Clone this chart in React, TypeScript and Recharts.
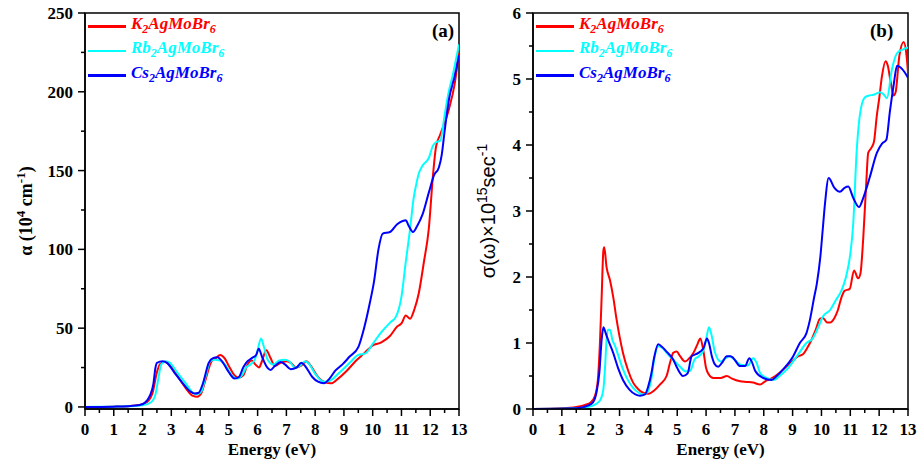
import { LineChart, Line, XAxis, YAxis, ReferenceArea } from 'recharts';

type Pt = [number, number];

// energy axis (eV), majors every 1, minors every 0.5
const energyTicks = [0, 0.5, 1, 1.5, 2, 2.5, 3, 3.5, 4, 4.5, 5, 5.5, 6, 6.5, 7, 7.5, 8, 8.5, 9, 9.5, 10, 10.5, 11, 11.5, 12, 12.5, 13];
const alphaTicks = [0, 25, 50, 75, 100, 125, 150, 175, 200, 225, 250];
const sigmaTicks = [0, 0.5, 1, 1.5, 2, 2.5, 3, 3.5, 4, 4.5, 5, 5.5, 6];

const compounds = ['K', 'Rb', 'Cs'];
const colors = ['#ff0000', '#00ffff', '#0000ff'];

// absorption coefficient, 10^4 cm^-1
const kAlpha: Pt[] = [
  [0, 0], [1.0, 0.2], [1.5, 0.5], [1.9, 1.2], [2.15, 3], [2.35, 9], [2.5, 22], [2.6, 27], [2.75, 28.5], [2.9, 27.5],
  [3.2, 20], [3.5, 12], [3.75, 7], [3.9, 6.5], [4.05, 9], [4.2, 18], [4.4, 29], [4.55, 31], [4.7, 33], [4.85, 31],
  [5.0, 26], [5.2, 20], [5.35, 18.5], [5.5, 20], [5.65, 27], [5.8, 29.5], [5.92, 27], [6.05, 25], [6.15, 29], [6.3, 36],
  [6.45, 31], [6.6, 26], [6.8, 28], [7.0, 29], [7.15, 28], [7.35, 25], [7.5, 26], [7.7, 29], [7.85, 26], [8.1, 19],
  [8.35, 15.5], [8.55, 15], [8.8, 18], [9.1, 23], [9.4, 29], [9.7, 34], [10.0, 39], [10.3, 41], [10.6, 45], [10.85, 51],
  [11.0, 53], [11.15, 58], [11.3, 56], [11.45, 62], [11.6, 72], [11.78, 92], [11.95, 113], [12.1, 148], [12.2, 165],
  [12.35, 173], [12.65, 189], [12.85, 205], [13, 225],
];
const rbAlpha: Pt[] = [
  [0, 0], [1.0, 0.2], [1.5, 0.4], [2.0, 1], [2.3, 3], [2.45, 8], [2.55, 18], [2.65, 27], [2.8, 29], [2.95, 28],
  [3.2, 22], [3.5, 15], [3.75, 9], [3.9, 8], [4.05, 10], [4.2, 20], [4.35, 29], [4.5, 30], [4.7, 29.5], [4.9, 26],
  [5.1, 20], [5.3, 18], [5.45, 20], [5.6, 25], [5.75, 27], [5.9, 30], [6.0, 36], [6.12, 43.5], [6.22, 38], [6.35, 30],
  [6.55, 27], [6.75, 29.5], [6.95, 30], [7.1, 29], [7.3, 25], [7.5, 26.5], [7.65, 29], [7.8, 27], [8.0, 21], [8.3, 16],
  [8.5, 16.5], [8.8, 21], [9.2, 28], [9.5, 33], [9.75, 34], [10.0, 40], [10.28, 47], [10.63, 54], [10.8, 57], [11.0, 70],
  [11.15, 92], [11.3, 113], [11.42, 132], [11.5, 140], [11.6, 148], [11.73, 153], [11.95, 158], [12.1, 166], [12.2, 168],
  [12.35, 169], [12.5, 185], [12.6, 196], [12.8, 212], [13, 230],
];
const csAlpha: Pt[] = [
  [0, 0], [1.0, 0.2], [1.5, 0.5], [1.9, 1.2], [2.1, 3], [2.25, 7], [2.38, 15], [2.45, 25], [2.5, 28], [2.7, 29],
  [2.85, 28], [3.1, 22], [3.4, 15], [3.65, 10], [3.8, 8.5], [3.95, 9], [4.1, 15], [4.3, 28], [4.45, 31], [4.6, 31.5],
  [4.8, 28], [5.0, 22], [5.2, 18], [5.35, 19], [5.5, 25], [5.6, 28], [5.8, 31], [5.95, 33], [6.04, 37], [6.15, 32],
  [6.3, 26], [6.45, 23.5], [6.6, 26], [6.8, 28.5], [6.95, 27], [7.15, 24], [7.35, 25], [7.52, 28], [7.65, 26], [7.9, 19],
  [8.1, 16], [8.3, 15], [8.5, 18], [8.7, 23], [8.95, 27], [9.2, 32], [9.5, 38], [9.7, 50], [9.9, 66], [10.05, 80],
  [10.2, 100], [10.35, 110], [10.6, 111], [10.85, 116], [11.04, 118], [11.15, 118.5], [11.25, 115], [11.4, 111],
  [11.55, 115], [11.73, 122], [11.95, 136], [12.13, 147], [12.3, 152], [12.4, 160], [12.5, 175], [12.65, 195],
  [12.85, 210], [13, 223],
];

// optical conductivity, 10^15 sec^-1
const kSigma: Pt[] = [
  [0, 0], [1.0, 0.01], [1.5, 0.03], [1.8, 0.06], [2.0, 0.1], [2.15, 0.2], [2.25, 0.45], [2.32, 1.0], [2.38, 1.7],
  [2.44, 2.4], [2.47, 2.45], [2.55, 2.15], [2.67, 1.95], [2.78, 1.7], [2.9, 1.35], [3.0, 1.1], [3.12, 0.85], [3.3, 0.58],
  [3.47, 0.4], [3.65, 0.3], [3.8, 0.25], [4.0, 0.23], [4.2, 0.28], [4.4, 0.37], [4.63, 0.5], [4.75, 0.7], [4.86, 0.85],
  [4.98, 0.87], [5.1, 0.8], [5.27, 0.72], [5.4, 0.76], [5.56, 0.85], [5.7, 0.98], [5.8, 1.07], [5.9, 0.9], [6.0, 0.62],
  [6.1, 0.52], [6.25, 0.47], [6.5, 0.47], [6.72, 0.5], [6.9, 0.46], [7.18, 0.42], [7.4, 0.41], [7.63, 0.4], [7.87, 0.37],
  [8.05, 0.42], [8.2, 0.45], [8.4, 0.5], [8.55, 0.55], [8.8, 0.65], [9.0, 0.73], [9.2, 0.8], [9.36, 0.83], [9.5, 0.92],
  [9.6, 1.0], [9.8, 1.2], [9.95, 1.37], [10.05, 1.38], [10.2, 1.31], [10.3, 1.31], [10.45, 1.38], [10.57, 1.5],
  [10.7, 1.7], [10.8, 1.79], [10.98, 1.82], [11.13, 2.1], [11.27, 1.98], [11.35, 2.05], [11.45, 2.6], [11.55, 3.4],
  [11.62, 3.88], [11.72, 3.95], [11.82, 4.05], [11.92, 4.45], [12.0, 4.7], [12.1, 5.05], [12.22, 5.27], [12.3, 5.2],
  [12.4, 4.95], [12.5, 4.75], [12.57, 4.8], [12.7, 5.35], [12.85, 5.56], [12.95, 5.35], [13, 5.1],
];
const rbSigma: Pt[] = [
  [0, 0], [1.5, 0.01], [2.0, 0.04], [2.2, 0.08], [2.35, 0.15], [2.44, 0.3], [2.5, 0.65], [2.55, 1.05], [2.6, 1.2],
  [2.67, 1.2], [2.75, 1.05], [2.85, 0.95], [3.0, 0.75], [3.12, 0.6], [3.3, 0.43], [3.47, 0.32], [3.65, 0.25], [3.8, 0.22],
  [3.95, 0.25], [4.1, 0.45], [4.2, 0.75], [4.34, 0.95], [4.5, 0.92], [4.63, 0.85], [4.85, 0.75], [5.1, 0.64], [5.3, 0.57],
  [5.45, 0.58], [5.6, 0.75], [5.75, 0.8], [5.9, 0.88], [6.0, 1.05], [6.1, 1.24], [6.2, 1.1], [6.3, 0.87], [6.5, 0.72],
  [6.65, 0.76], [6.8, 0.8], [6.95, 0.76], [7.2, 0.67], [7.45, 0.66], [7.63, 0.77], [7.75, 0.7], [7.87, 0.55], [8.1, 0.47],
  [8.35, 0.44], [8.55, 0.5], [8.8, 0.6], [9.15, 0.8], [9.48, 1.0], [9.7, 1.07], [9.9, 1.25], [10.05, 1.4], [10.3, 1.5],
  [10.5, 1.65], [10.7, 1.8], [10.85, 2.0], [11.0, 2.35], [11.1, 2.8], [11.22, 3.9], [11.33, 4.45], [11.5, 4.72],
  [11.65, 4.75], [11.8, 4.76], [12.03, 4.8], [12.15, 4.77], [12.27, 4.71], [12.44, 5.14], [12.62, 5.39], [12.83, 5.45],
  [13, 5.48],
];
const csSigma: Pt[] = [
  [0, 0], [1.5, 0.01], [1.9, 0.05], [2.08, 0.1], [2.2, 0.25], [2.3, 0.55], [2.38, 1.05], [2.44, 1.24], [2.52, 1.15],
  [2.6, 1.05], [2.78, 0.85], [2.95, 0.62], [3.12, 0.44], [3.35, 0.29], [3.55, 0.22], [3.71, 0.2], [3.88, 0.22], [4.0, 0.35],
  [4.1, 0.53], [4.2, 0.78], [4.34, 0.98], [4.5, 0.93], [4.63, 0.87], [4.86, 0.75], [5.0, 0.62], [5.2, 0.5], [5.36, 0.54],
  [5.5, 0.8], [5.65, 0.83], [5.8, 0.87], [5.92, 0.93], [6.03, 1.07], [6.1, 1.0], [6.2, 0.8], [6.3, 0.68], [6.42, 0.64],
  [6.55, 0.7], [6.72, 0.8], [6.85, 0.8], [6.95, 0.77], [7.18, 0.65], [7.35, 0.65], [7.5, 0.77], [7.6, 0.7], [7.7, 0.58],
  [7.98, 0.47], [8.27, 0.44], [8.45, 0.5], [8.67, 0.6], [9.02, 0.8], [9.25, 1.0], [9.48, 1.15], [9.6, 1.35], [9.75, 1.7],
  [9.84, 1.9], [9.96, 2.3], [10.05, 2.75], [10.12, 3.1], [10.25, 3.5], [10.45, 3.35], [10.64, 3.29], [10.8, 3.35],
  [10.93, 3.37], [11.1, 3.2], [11.3, 3.06], [11.45, 3.2], [11.68, 3.52], [11.92, 3.88], [12.1, 4.02], [12.25, 4.08],
  [12.37, 4.5], [12.5, 4.9], [12.62, 5.2], [12.8, 5.15], [13, 5.02],
];

const SERIF = '"Liberation Serif", "Times New Roman", serif';
const SANS = '"Liberation Sans", Arial, sans-serif';

const toRows = (pts: Pt[]) => pts.map(([e, v]) => ({ e, v }));

const XTick = ({ x, y, payload }: any) => {
  const major = Number.isInteger(payload.value);
  return (
    <g>
      <line x1={x} x2={x} y1={y} y2={y + (major ? 7 : 4)} stroke="#000" strokeWidth={1.5} />
      {major && (
        <text x={x} y={y + 26} textAnchor="middle" fontFamily={SERIF} fontWeight="bold" fontSize={17} fill="#000">
          {payload.value}
        </text>
      )}
    </g>
  );
};

const makeYTick = (isMajor: (v: number) => boolean) => ({ x, y, payload }: any) => {
  const major = isMajor(payload.value);
  return (
    <g>
      <line x1={x} x2={x - (major ? 7 : 4)} y1={y} y2={y} stroke="#000" strokeWidth={1.5} />
      {major && (
        <text x={x - 12} y={y + 6} textAnchor="end" fontFamily={SERIF} fontWeight="bold" fontSize={17} fill="#000">
          {payload.value}
        </text>
      )}
    </g>
  );
};

const AlphaLabel = ({ viewBox }: any) => {
  const cx = viewBox.x + 32;
  const cy = viewBox.y + viewBox.height / 2;
  return (
    <text x={cx} y={cy} transform={`rotate(-90, ${cx}, ${cy})`} textAnchor="middle" fontFamily={SERIF}
      fontWeight="bold" fontSize={18} fill="#000">
      <tspan>α (10</tspan>
      <tspan dy={-7} fontSize={13}>4</tspan>
      <tspan dy={7}> cm</tspan>
      <tspan dy={-7} fontSize={13}>-1</tspan>
      <tspan dy={7}>)</tspan>
    </text>
  );
};

const SigmaLabel = ({ viewBox }: any) => {
  const cx = viewBox.x + 35;
  const cy = viewBox.y + viewBox.height / 2;
  return (
    <text x={cx} y={cy} transform={`rotate(-90, ${cx}, ${cy})`} textAnchor="middle" fontFamily={SANS}
      fontSize={20} fill="#000">
      <tspan>σ(ω)×10</tspan>
      <tspan dy={-8} fontSize={14}>15</tspan>
      <tspan dy={8}>sec</tspan>
      <tspan dy={-8} fontSize={14}>-1</tspan>
      <tspan dy={8}></tspan>
    </text>
  );
};

function Legend({ left }: { left: number }) {
  return (
    <div style={{ position: 'absolute', left, top: 14 }}>
      {compounds.map((c, i) => (
        <div key={c} style={{ display: 'flex', alignItems: 'center', height: 24.5 }}>
          <div style={{ width: 38, height: 2.5, background: colors[i] }} />
          <span style={{
            marginLeft: 5, color: colors[i], fontFamily: SERIF, fontWeight: 'bold', fontStyle: 'italic',
            fontSize: 17, lineHeight: '17px', whiteSpace: 'nowrap',
          }}>
            {c}<sub style={{ fontSize: 12 }}>2</sub>AgMoBr<sub style={{ fontSize: 12 }}>6</sub>
          </span>
        </div>
      ))}
    </div>
  );
}

interface PanelProps {
  left: number;
  width: number;
  yAxisWidth: number;
  rightMargin: number;
  series: Pt[][];
  yDomain: [number, number];
  yTicks: number[];
  isMajor: (v: number) => boolean;
  yLabel: (p: any) => any;
  tag: string;
  tagLeft: number;
}

function Panel({ left, width, yAxisWidth, rightMargin, series, yDomain, yTicks, isMajor, yLabel, tag, tagLeft }: PanelProps) {
  const YTick = makeYTick(isMajor);
  return (
    <div style={{ position: 'absolute', left, top: 0, width, height: 459 }}>
      <LineChart width={width} height={459} margin={{ top: 13, right: rightMargin, bottom: 0, left: 0 }}>
        <XAxis
          dataKey="e"
          type="number"
          domain={[0, 13]}
          ticks={energyTicks}
          interval={0}
          allowDataOverflow
          height={50}
          tickSize={0}
          tickMargin={0}
          tickLine={false}
          tick={(p: any) => <XTick {...p} />}
          axisLine={{ stroke: '#000', strokeWidth: 1.5 }}
          label={{ value: 'Energy (eV)', position: 'insideBottom', offset: 4, fontFamily: SERIF, fontWeight: 'bold', fontSize: 17, fill: '#000' }}
        />
        <YAxis
          type="number"
          domain={yDomain}
          ticks={yTicks}
          interval={0}
          allowDataOverflow
          width={yAxisWidth}
          tickSize={0}
          tickMargin={0}
          tickLine={false}
          tick={(p: any) => <YTick {...p} />}
          axisLine={{ stroke: '#000', strokeWidth: 1.5 }}
          label={{ content: yLabel }}
        />
        {/* plot frame */}
        <ReferenceArea x1={0} x2={13} y1={yDomain[0]} y2={yDomain[1]} fill="none" stroke="#000" strokeWidth={1.5}
          ifOverflow="visible" />
        {series.map((pts, i) => (
          <Line
            key={compounds[i]}
            data={toRows(pts)}
            dataKey="v"
            type="monotone"
            stroke={colors[i]}
            strokeWidth={2}
            dot={false}
            isAnimationActive={false}
          />
        ))}
      </LineChart>
      <Legend left={yAxisWidth + 3} />
      <div style={{
        position: 'absolute', left: tagLeft, top: 20, fontFamily: SERIF, fontWeight: 'bold', fontSize: 19, lineHeight: '22px',
      }}>
        {tag}
      </div>
    </div>
  );
}

export default function App() {
  return (
    <div style={{ position: 'absolute', left: 0, top: 0, width: 921, height: 459, background: '#fff' }}>
      <Panel
        left={0}
        width={470}
        yAxisWidth={85}
        rightMargin={11}
        series={[kAlpha, rbAlpha, csAlpha]}
        yDomain={[-1.3, 250]}
        yTicks={alphaTicks}
        isMajor={(v) => v % 50 === 0}
        yLabel={(p: any) => <AlphaLabel {...p} />}
        tag="(a)"
        tagLeft={432}
      />
      <Panel
        left={460}
        width={461}
        yAxisWidth={73}
        rightMargin={13}
        series={[kSigma, rbSigma, csSigma]}
        yDomain={[0, 6]}
        yTicks={sigmaTicks}
        isMajor={(v) => Number.isInteger(v)}
        yLabel={(p: any) => <SigmaLabel {...p} />}
        tag="(b)"
        tagLeft={410}
      />
    </div>
  );
}
